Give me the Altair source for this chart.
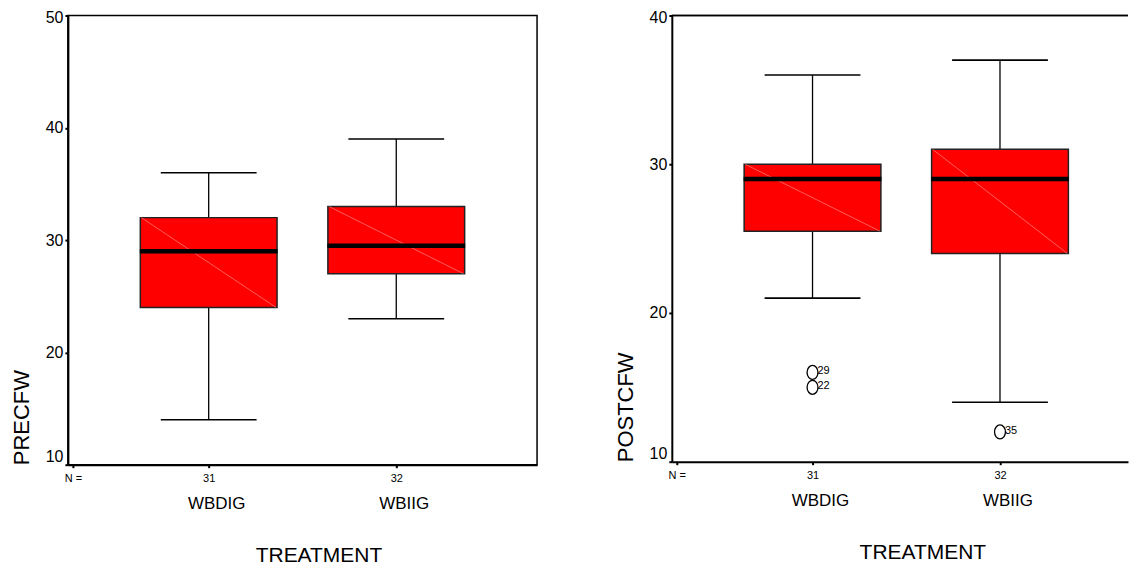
import altair as alt
import pandas as pd

# ---------------- data ----------------
groups = ["WBDIG", "WBIIG"]
n_counts = [31, 32]

pre_lower = [14, 23]
pre_q1 = [24, 27]
pre_median = [29, 29.5]
pre_q3 = [32, 33]
pre_upper = [36, 39]

post_lower = [21, 14]
post_q1 = [25.5, 24]
post_median = [29, 29]
post_q3 = [30, 31]
post_upper = [36, 37]

post_out_group = ["WBDIG", "WBDIG", "WBIIG"]
post_out_value = [16, 15, 12]
post_out_case = ["29", "22", "35"]

pre_ticks = [10, 20, 30, 40, 50]
post_ticks = [10, 20, 30, 40]

FONT = "Liberation Sans"
STEP = 192        # pixels between the two categories
BOX_W = 137
CAP_W = 96
ELLIPSE = "M0,-1A0.78,1,0,1,1,0,1A0.78,1,0,1,1,0,-1Z"


def stats_frame(lower, q1, med, q3, upper):
    return pd.DataFrame({
        "group": groups,
        "pos": [i + 1 for i in range(len(groups))],
        "lower": lower, "q1": q1, "median": med, "q3": q3, "upper": upper,
    })


def out_frame(g, v, c):
    return pd.DataFrame({
        "pos": [groups.index(x) + 1 for x in g],
        "value": v, "case": c,
    })


def panel(stats, outliers, ytitle, ydomain, yvalues, width, height, left_px,
          full_frame=True):
    xlo = 1 - left_px / STEP
    xhi = xlo + width / STEP
    label_expr = (f"datum.value < 0.9 ? 'N =' : (datum.value < 1.5 ? "
                  f"'{n_counts[0]}' : '{n_counts[1]}')")
    xaxis = alt.Axis(values=[xlo, 1, 2], labelExpr=label_expr, labelFlush=False,
                     labelFontSize=11, labelPadding=5, tickSize=3, tickWidth=2,
                     domainWidth=2, title="TREATMENT", titleFontSize=21,
                     titlePadding=61, titleX=235 + 16, grid=False)
    yaxis = alt.Axis(values=yvalues, labelFontSize=16, labelPadding=2, tickSize=3,
                     tickWidth=2, domainWidth=2, title=ytitle, titleFontSize=22,
                     titleAnchor="start", titlePadding=12, grid=False,
                     labelBaseline={"condition": [
                         {"test": f"datum.value <= {ydomain[0]}", "value": "bottom"},
                         {"test": f"datum.value >= {ydomain[1]}", "value": "top"}],
                         "value": "middle"},
                     labelOffset={"condition": {"test": f"datum.value >= {ydomain[1]}",
                                                "value": -6},
                                  "value": 0})
    xs = alt.Scale(domain=[xlo, xhi], nice=False, zero=False)
    ys = alt.Scale(domain=ydomain, nice=False, zero=False)
    X = alt.X("pos:Q", scale=xs, axis=xaxis)

    base = alt.Chart(stats)
    whisker = base.mark_rule(color="black", strokeWidth=1.3).encode(
        x=X, y=alt.Y("lower:Q", scale=ys, axis=yaxis), y2="upper:Q")
    box = base.mark_bar(size=BOX_W, color="#ff0000", stroke="#222222",
                        strokeWidth=1.5, opacity=1).encode(
        x=X, y=alt.Y("q1:Q", scale=ys, axis=yaxis), y2="q3:Q")
    diag = base.mark_rule(color="#ff9a9a", strokeWidth=0.6,
                          xOffset=-BOX_W / 2 + 1, x2Offset=BOX_W / 2 - 1).encode(
        x=X, x2="pos:Q", y=alt.Y("q3:Q", scale=ys, axis=yaxis), y2="q1:Q")
    cap_lo = base.mark_tick(orient="horizontal", size=CAP_W, thickness=1.6,
                            color="black", opacity=1).encode(
        x=X, y=alt.Y("lower:Q", scale=ys, axis=yaxis))
    cap_hi = base.mark_tick(orient="horizontal", size=CAP_W, thickness=1.6,
                            color="black", opacity=1).encode(
        x=X, y=alt.Y("upper:Q", scale=ys, axis=yaxis))
    med = base.mark_tick(orient="horizontal", size=BOX_W + 1, thickness=4.5,
                         color="black", opacity=1).encode(
        x=X, y=alt.Y("median:Q", scale=ys, axis=yaxis))
    names = base.mark_text(fontSize=17, dx=8, baseline="middle", align="center",
                           color="black").encode(
        x=X, y=alt.value(height + 39), text="group:N")

    layers = [whisker, box, diag, cap_lo, cap_hi, med, names]
    if len(outliers):
        ob = alt.Chart(outliers)
        pts = ob.mark_point(shape=ELLIPSE, filled=False, size=196, strokeWidth=1.3,
                            color="black", opacity=1).encode(
            x=X, y=alt.Y("value:Q", scale=ys, axis=yaxis))
        lab = ob.mark_text(fontSize=11, dx=5, dy=-1, align="left",
                           baseline="middle", color="black").encode(
            x=X, y=alt.Y("value:Q", scale=ys, axis=yaxis), text="case:N")
        layers += [pts, lab]
    if not full_frame:
        top = alt.Chart(stats).mark_rule(color="black", strokeWidth=1.5).encode(
            x=alt.value(0), x2=alt.value(width), y=alt.value(0))
        layers.append(top)
        return alt.layer(*layers).properties(
            width=width, height=height,
            view=alt.ViewBackground(stroke="transparent"))
    return alt.layer(*layers).properties(width=width, height=height)


left = panel(stats_frame(pre_lower, pre_q1, pre_median, pre_q3, pre_upper),
             pd.DataFrame(), "PRECFW", [10, 50], pre_ticks, 470, 450, 139)
right = panel(stats_frame(post_lower, post_q1, post_median, post_q3, post_upper),
              out_frame(post_out_group, post_out_value, post_out_case),
              "POSTCFW", [10, 40], post_ticks, 457, 447, 139, full_frame=False)

chart = alt.hconcat(left, right, spacing=75).properties(
    padding={"left": 1, "top": 0, "right": 0, "bottom": 0}
).configure(font=FONT).configure_axis(
    labelColor="black", titleColor="black", domainColor="black", tickColor="black",
    titleFontWeight="normal", labelFont=FONT, titleFont=FONT
).configure_view(stroke="black", strokeWidth=1.5)

chart.save("out.html", embed_options={"renderer": "svg", "actions": False})
